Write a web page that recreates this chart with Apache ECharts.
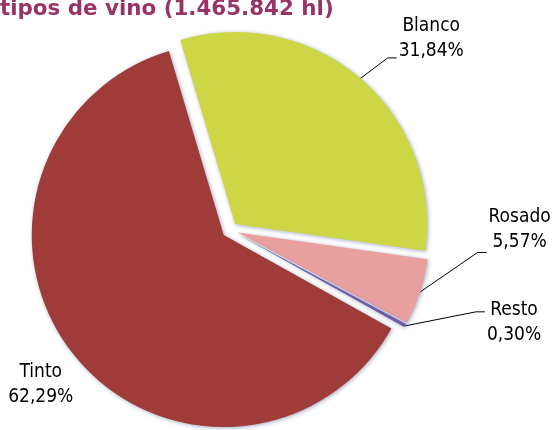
<!DOCTYPE html>
<html>
<head>
<meta charset="UTF-8">
<title>Tipos de vino</title>
<script src="https://cdn.jsdelivr.net/npm/echarts@6/dist/echarts.min.js"></script>
<style>
body{margin:0;padding:0;background:#fff;}
#main{width:557px;height:430px;}
</style>
</head>
<body>
<div id="main"></div>
<script>
var tipos = ['Blanco', 'Rosado', 'Resto', 'Tinto'];
var porcentajes = [31.84, 5.57, 0.30, 62.29];
var colores = ['#CDD644', '#E8A09E', '#6F5BA8', '#9F3C3A'];
// etiqueta: centro x, borde superior y, altura de la linea guia desde el borde
// (la etiqueta se desplaza luego junto con su porcion separada)
var etiquetas = [[426, 20, 44], [512, 202, 48], [507, 294, 14], [47, 355, 0]];

var fuente = '19px "DejaVu Sans Condensed"';
var ctx = document.createElement('canvas').getContext('2d');
ctx.font = fuente;
function ancho(txt) {
    return Math.max.apply(null, txt.split('\n').map(function (l) { return ctx.measureText(l).width; }));
}
function texto(i) {
    return tipos[i] + '\n' + porcentajes[i].toFixed(2).replace('.', ',') + '%';
}

var myChart = echarts.init(document.getElementById('main'));

var datos = tipos.map(function (t, i) {
    var d = {
        name: t,
        value: porcentajes[i],
        selected: true,
        itemStyle: { color: colores[i] }
    };
    if (t === 'Tinto') {
        d.labelLine = { show: false };
    }
    return d;
});

myChart.setOption({
    animation: false,
    title: {
        text: 'tipos de vino (1.465.842 hl)',
        left: 0,
        top: -1,
        padding: 0,
        textStyle: {
            color: '#993366',
            fontFamily: 'DejaVu Sans',
            fontWeight: 'bold',
            fontSize: 21.4,
            lineHeight: 21
        }
    },
    series: [{
        type: 'pie',
        center: [230, 230],
        radius: 192,
        startAngle: 106.6,
        selectedMode: 'multiple',
        selectedOffset: 8,
        avoidLabelOverlap: false,
        itemStyle: {
            shadowBlur: 4,
            shadowOffsetX: 1,
            shadowOffsetY: 1,
            shadowColor: 'rgba(30,50,110,0.4)'
        },
        select: {
            itemStyle: { borderWidth: 0 }
        },
        emphasis: { disabled: true },
        label: {
            formatter: function (p) { return texto(p.dataIndex); },
            fontFamily: 'DejaVu Sans Condensed',
            fontSize: 19,
            lineHeight: 25,
            color: '#000'
        },
        labelLine: {
            length: 20,
            length2: 10,
            lineStyle: { color: '#000', width: 1 }
        },
        labelLayout: function (p) {
            var e = etiquetas[p.dataIndex];
            var r = p.labelRect;
            var izq = r.x + r.width / 2 < myChart.getWidth() / 2;
            var ax = izq ? r.x + r.width : r.x;
            var ay = r.y + r.height / 2;
            var res = {
                align: 'center',
                verticalAlign: 'top',
                dx: e[0] - ax,
                dy: e[1] - ay
            };
            var pts = p.labelLinePoints;
            if (pts && e[2]) {
                var xFin = e[0] - ancho(texto(p.dataIndex)) / 2 - 2;
                var yFin = e[1] + e[2];
                res.labelLinePoints = [pts[0], [xFin - 9, yFin], [xFin, yFin]];
            }
            return res;
        },
        data: datos
    }]
});
</script>
</body>
</html>
